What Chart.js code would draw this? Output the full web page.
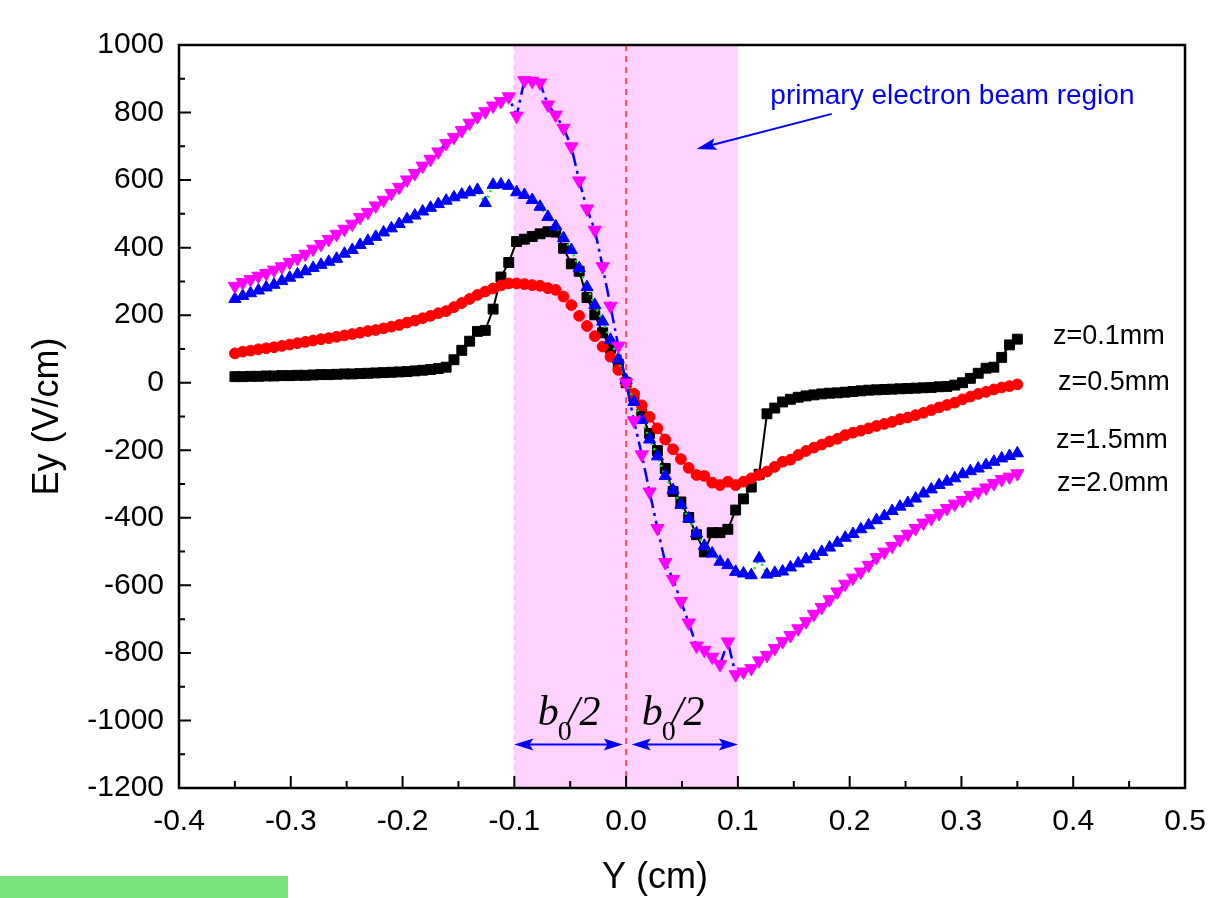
<!DOCTYPE html>
<html>
<head>
<meta charset="utf-8">
<script src="https://cdn.jsdelivr.net/npm/chart.js@4.4.1/dist/chart.umd.min.js"></script>
<style>
html,body{margin:0;padding:0;background:#fff;}
#wrap{width:1216px;height:898px;position:relative;}
canvas{display:block;}
</style>
</head>
<body>
<div id="wrap"><canvas id="c" width="1216" height="898"></canvas></div>
<script>
// ---- data ----
const Y_CM = [
-0.350,-0.343,-0.336,-0.329,-0.322,-0.315,-0.308,-0.301,-0.294,-0.287,
-0.280,-0.273,-0.266,-0.259,-0.252,-0.245,-0.238,-0.231,-0.224,-0.217,
-0.210,-0.203,-0.196,-0.189,-0.182,-0.175,-0.168,-0.161,-0.154,-0.147,
-0.140,-0.133,-0.126,-0.119,-0.112,-0.105,-0.098,-0.091,-0.084,-0.077,
-0.070,-0.063,-0.056,-0.049,-0.042,-0.035,-0.028,-0.021,-0.014,-0.007,
0.000,0.007,0.014,0.021,0.028,0.035,0.042,0.049,0.056,0.063,
0.070,0.077,0.084,0.091,0.098,0.105,0.112,0.119,0.126,0.133,
0.140,0.147,0.154,0.161,0.168,0.175,0.182,0.189,0.196,0.203,
0.210,0.217,0.224,0.231,0.238,0.245,0.252,0.259,0.266,0.273,
0.280,0.287,0.294,0.301,0.308,0.315,0.322,0.329,0.336,0.343,
0.350];

const EY_Z01 = [
18,18,19,19,20,20,21,21,22,22,
23,24,24,25,26,26,27,28,29,30,
31,32,33,35,37,39,42,46,68,96,
123,152,155,218,313,356,418,425,433,441,
447,446,398,352,330,252,201,148,102,55,
0,-40,-93,-150,-201,-254,-322,-353,-399,-450,
-501,-444,-444,-434,-377,-344,-309,-271,-92,-75,
-57,-49,-43,-39,-36,-33,-31,-30,-28,-26,
-24,-22,-21,-20,-19,-18,-17,-16,-15,-14,
-12,-11,-7,0,13,28,43,46,75,112,
129];

const EY_Z05 = [
87,92,95,99,102,105,109,113,117,121,
125,129,132,136,140,144,148,153,156,161,
166,171,178,184,191,198,206,212,224,236,
248,260,270,279,288,294,294,292,289,287,
280,275,255,230,198,168,138,107,77,38,
0,-33,-67,-101,-135,-168,-197,-226,-252,-273,
-276,-296,-303,-293,-303,-293,-283,-273,-263,-249,
-234,-228,-214,-202,-192,-183,-174,-166,-155,-148,
-142,-135,-128,-122,-116,-108,-103,-96,-89,-81,
-73,-66,-59,-49,-41,-33,-27,-20,-14,-10,
-5];

const EY_Z15 = [
248,257,265,273,282,290,301,311,321,330,
340,349,358,367,382,393,408,420,432,445,
457,470,484,495,507,518,529,539,549,557,
564,571,532,586,587,583,564,556,541,521,
491,463,428,393,339,283,230,181,127,69,
8,-57,-110,-168,-218,-276,-318,-362,-402,-446,
-483,-506,-530,-540,-560,-565,-570,-520,-568,-563,
-559,-547,-535,-523,-513,-501,-488,-474,-459,-448,
-434,-422,-407,-395,-380,-367,-356,-343,-328,-316,
-303,-293,-283,-271,-262,-254,-244,-234,-224,-217,
-209];

const EY_Z20 = [
286,297,306,316,324,334,344,357,368,381,
396,410,425,440,455,470,490,505,524,541,
561,579,601,620,642,662,684,709,727,747,
769,788,803,820,833,847,790,895,893,888,
823,793,754,699,598,515,452,344,227,109,
0,-112,-213,-323,-431,-532,-582,-647,-711,-779,
-792,-812,-834,-767,-864,-856,-846,-823,-807,-786,
-766,-748,-728,-707,-685,-665,-642,-619,-596,-578,
-560,-540,-517,-501,-484,-464,-448,-431,-415,-402,
-387,-372,-359,-348,-333,-323,-311,-298,-286,-279,
-269];

const SERIES_NAMES = ['z=0.1mm','z=0.5mm','z=1.5mm','z=2.0mm'];
const X_TICKS = [-0.4,-0.3,-0.2,-0.1,0.0,0.1,0.2,0.3,0.4,0.5];
const X_MINOR = [-0.35,-0.25,-0.15,-0.05,0.05,0.15,0.25,0.35,0.45];
const Y_TICKS = [1000,800,600,400,200,0,-200,-400,-600,-800,-1000,-1200];
const Y_MINOR = [900,700,500,300,100,-100,-300,-500,-700,-900,-1100];
const BEAM_REGION = [-0.1, 0.1];

// ---- styling ----
const SANS = "'Liberation Sans', Arial, Helvetica, sans-serif";
const SERIF = "'Liberation Serif', 'Times New Roman', serif";

function pts(ys){ return Y_CM.map((x,i)=>({x:x, y:ys[i]})); }

function arrowHead(ctx, x1, y1, x2, y2, len, half){
  const a = Math.atan2(y2-y1, x2-x1), c = Math.cos(a), s = Math.sin(a);
  ctx.beginPath();
  ctx.moveTo(x2, y2);
  ctx.lineTo(x2 - c*len - s*half, y2 - s*len + c*half);
  ctx.lineTo(x2 - c*len*0.8, y2 - s*len*0.8);
  ctx.lineTo(x2 - c*len + s*half, y2 - s*len - c*half);
  ctx.closePath();
  ctx.fill();
}
function arrowLine(ctx, x1, y1, x2, y2, len, half, both){
  const a = Math.atan2(y2-y1, x2-x1), c = Math.cos(a), s = Math.sin(a);
  ctx.beginPath();
  ctx.moveTo(both ? x1 + c*len*0.7 : x1, both ? y1 + s*len*0.7 : y1);
  ctx.lineTo(x2 - c*len*0.7, y2 - s*len*0.7);
  ctx.stroke();
  arrowHead(ctx, x1, y1, x2, y2, len, half);
  if (both) arrowHead(ctx, x2, y2, x1, y1, len, half);
}
function b0half(ctx, cx, base){
  const f1 = "italic 42px " + SERIF, f2 = "28px " + SERIF;
  ctx.font = f1; const wb = ctx.measureText('b').width; const w2 = ctx.measureText('/2').width;
  const total = wb + 9 + w2;
  const x = cx - total/2;
  ctx.fillStyle = '#000';
  ctx.textBaseline = 'alphabetic'; ctx.textAlign = 'left';
  ctx.font = f1; ctx.fillText('b', x, base);
  ctx.font = f2; ctx.fillText('0', x + wb - 1, base + 15);
  ctx.font = f1; ctx.fillText('/2', x + wb + 9, base);
}

const decor = {
  id: 'decor',
  beforeDraw(chart){
    const c = chart.ctx; c.save(); c.fillStyle = '#fff'; c.fillRect(0,0,chart.width,chart.height); c.restore();
  },
  beforeDatasetsDraw(chart){
    const {ctx, chartArea:a, scales:{x}} = chart;
    const xl = x.getPixelForValue(BEAM_REGION[0]), xr = x.getPixelForValue(BEAM_REGION[1]);
    ctx.save();
    ctx.fillStyle = '#ffd2ff';
    ctx.fillRect(xl, a.top, xr - xl, a.bottom - a.top);
    ctx.strokeStyle = '#ffb6ff'; ctx.lineWidth = 1.2; ctx.setLineDash([5,5]);
    ctx.beginPath(); ctx.moveTo(xl, a.top); ctx.lineTo(xl, a.bottom); ctx.stroke();
    const x0 = x.getPixelForValue(0);
    ctx.strokeStyle = '#ff2a2a'; ctx.lineWidth = 1.5; ctx.setLineDash([6,5]);
    ctx.beginPath(); ctx.moveTo(x0, a.top); ctx.lineTo(x0, a.bottom); ctx.stroke();
    ctx.restore();
  },
  afterDatasetsDraw(chart){
    const {ctx, chartArea:a, scales:{x, y}} = chart;
    ctx.save();
    // frame
    ctx.strokeStyle = '#000'; ctx.lineWidth = 2.5; ctx.setLineDash([]);
    ctx.strokeRect(a.left, a.top, a.right - a.left, a.bottom - a.top);
    // inward ticks
    ctx.lineWidth = 2;
    ctx.beginPath();
    Y_TICKS.forEach(v => { const p = y.getPixelForValue(v); ctx.moveTo(a.left, p); ctx.lineTo(a.left + 12, p); });
    Y_MINOR.forEach(v => { const p = y.getPixelForValue(v); ctx.moveTo(a.left, p); ctx.lineTo(a.left + 6, p); });
    X_TICKS.forEach(v => { const p = x.getPixelForValue(v); ctx.moveTo(p, a.bottom); ctx.lineTo(p, a.bottom - 12); });
    X_MINOR.forEach(v => { const p = x.getPixelForValue(v); ctx.moveTo(p, a.bottom); ctx.lineTo(p, a.bottom - 7); });
    ctx.stroke();

    // beam region annotation
    ctx.fillStyle = '#0000ff'; ctx.strokeStyle = '#0000ff';
    ctx.font = "28px " + SANS; ctx.textAlign = 'left'; ctx.textBaseline = 'alphabetic';
    ctx.fillText('primary electron beam region', x.getPixelForValue(0.129), y.getPixelForValue(826));
    ctx.lineWidth = 2;
    arrowLine(ctx, x.getPixelForValue(0.184), y.getPixelForValue(796), x.getPixelForValue(0.063), y.getPixelForValue(692), 20, 6, false);

    // b0/2 double arrows
    const ya = y.getPixelForValue(-1071);
    arrowLine(ctx, x.getPixelForValue(-0.1), ya, x.getPixelForValue(-0.003), ya, 19, 6, true);
    arrowLine(ctx, x.getPixelForValue(0.005), ya, x.getPixelForValue(0.1), ya, 19, 6, true);
    b0half(ctx, x.getPixelForValue(-0.051), y.getPixelForValue(-1014));
    b0half(ctx, x.getPixelForValue(0.042), y.getPixelForValue(-1014));

    // series labels on the right
    ctx.fillStyle = '#000'; ctx.font = "27px " + SANS; ctx.textAlign = 'left'; ctx.textBaseline = 'alphabetic';
    const lx = [1053, 1058, 1056, 1057], ly = [344, 390, 448, 491];
    SERIES_NAMES.forEach((n, i) => ctx.fillText(n, lx[i], ly[i]));

    // x axis title
    ctx.font = "36px " + SANS; ctx.textAlign = 'center'; ctx.textBaseline = 'middle';
    ctx.fillText('Y (cm)', 655, 878);

    // green strip
    ctx.fillStyle = '#7be37b';
    ctx.fillRect(0, 876, 288, 22);
    ctx.restore();
  }
};

const ctx = document.getElementById('c').getContext('2d');
new Chart(ctx, {
  type: 'line',
  data: {
    datasets: [
      { label: SERIES_NAMES[0], data: pts(EY_Z01), borderColor: '#000000', borderWidth: 2,
        pointStyle: 'rect', pointRadius: 7, pointBackgroundColor: '#000000', pointBorderColor: '#000000', pointBorderWidth: 1, order: 4 },
      { label: SERIES_NAMES[1], data: pts(EY_Z05), borderColor: '#ff0000', borderWidth: 2, borderDash: [8,5],
        pointStyle: 'circle', pointRadius: 5.4, pointBackgroundColor: '#ff0000', pointBorderColor: '#ff0000', pointBorderWidth: 1, order: 3 },
      { label: SERIES_NAMES[2], data: pts(EY_Z15), borderColor: '#00ee00', borderWidth: 2.5, borderDash: [2,4],
        pointStyle: 'triangle', pointRadius: 7, pointBackgroundColor: '#0000ff', pointBorderColor: '#0000ff', pointBorderWidth: 1, order: 2 },
      { label: SERIES_NAMES[3], data: pts(EY_Z20), borderColor: '#0000ff', borderWidth: 2.5, borderDash: [14,5,3,5],
        pointStyle: 'triangle', pointRotation: 180, pointRadius: 7.6, pointBackgroundColor: '#ff00ff', pointBorderColor: '#ff00ff', pointBorderWidth: 1, order: 1 }
    ]
  },
  options: {
    responsive: false, animation: false, devicePixelRatio: 1,
    layout: { padding: { left: 0, right: 31, top: 45, bottom: 0 } },
    elements: { line: { tension: 0, fill: false } },
    plugins: { legend: { display: false }, tooltip: { enabled: false } },
    scales: {
      x: {
        type: 'linear', min: -0.4, max: 0.5,
        afterBuildTicks: s => { s.ticks = X_TICKS.map(v => ({ value: v })); },
        afterFit: s => { s.height = 110; s.paddingLeft = 0; s.paddingRight = 0; },
        grid: { display: false, drawTicks: false }, border: { display: false },
        ticks: { color: '#000', padding: 16, maxRotation: 0, autoSkip: false,
          font: { family: SANS, size: 30 },
          callback: v => (Math.abs(v) < 1e-9 ? '0.0' : Number(v).toFixed(1)) },
        title: { display: false }
      },
      y: {
        type: 'linear', min: -1200, max: 1000,
        afterBuildTicks: s => { s.ticks = Y_TICKS.map(v => ({ value: v })); },
        afterFit: s => { s.width = 179; s.paddingTop = 0; s.paddingBottom = 0; },
        grid: { display: false, drawTicks: false }, border: { display: false },
        ticks: { color: '#000', padding: 15, autoSkip: false,
          font: { family: SANS, size: 30 },
          callback: v => String(Math.round(v)) },
        title: { display: true, text: 'Ey (V/cm)', color: '#000',
          font: { family: SANS, size: 36, weight: 'normal' }, padding: { top: 26, bottom: 0 } }
      }
    }
  },
  plugins: [decor]
});
</script>
</body>
</html>
